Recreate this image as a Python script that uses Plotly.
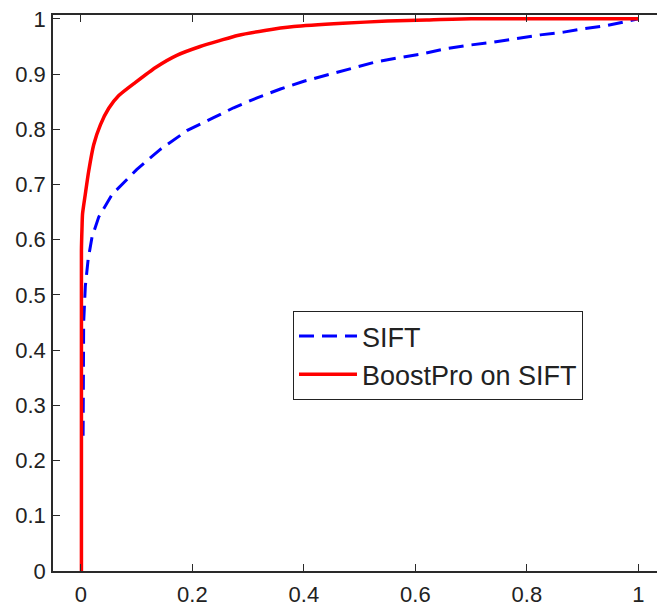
import plotly.graph_objects as go

# ROC curves: false positive rate vs. true positive rate
sift_fpr = [0.004, 0.004, 0.005, 0.008, 0.013, 0.020, 0.032, 0.056, 0.100, 0.143,
            0.191, 0.238, 0.274, 0.316, 0.358, 0.400, 0.442, 0.483, 0.525, 0.567,
            0.609, 0.650, 0.693, 0.735, 0.767, 0.824, 0.866, 0.900, 0.944, 0.985, 1.000]
sift_tpr = [0.245, 0.300, 0.450, 0.516, 0.564, 0.605, 0.641, 0.682, 0.727, 0.764,
            0.798, 0.821, 0.839, 0.857, 0.873, 0.887, 0.898, 0.909, 0.921, 0.929,
            0.936, 0.945, 0.952, 0.957, 0.962, 0.971, 0.976, 0.982, 0.988, 0.996, 1.000]

boost_fpr = [0.001, 0.001, 0.002, 0.003, 0.008, 0.014, 0.023, 0.035, 0.050, 0.068,
             0.098, 0.134, 0.172, 0.214, 0.250, 0.281, 0.330, 0.382, 0.470, 0.550,
             0.620, 0.700, 1.000]
boost_tpr = [0.000, 0.580, 0.620, 0.647, 0.683, 0.724, 0.772, 0.808, 0.838, 0.861,
             0.885, 0.912, 0.934, 0.950, 0.961, 0.970, 0.979, 0.986, 0.992, 0.996,
             0.998, 1.000, 1.000]

x_ticks = [0, 0.2, 0.4, 0.6, 0.8, 1]
x_tick_text = ["0", "0.2", "0.4", "0.6", "0.8", "1"]
y_ticks = [0, 0.1, 0.2, 0.3, 0.4, 0.5, 0.6, 0.7, 0.8, 0.9, 1]
y_tick_text = ["0", "0.1", "0.2", "0.3", "0.4", "0.5", "0.6", "0.7", "0.8", "0.9", "1"]

FONT = "Liberation Sans, Arial, sans-serif"
AXIS_COLOR = "#2a2a2a"
X_RANGE = [-0.05, 1.0334]
Y_RANGE = [0, 1.007]

fig = go.Figure()
fig.add_trace(go.Scatter(
    x=sift_fpr, y=sift_tpr, mode="lines", name="SIFT",
    line=dict(color="#0000ff", width=3, dash="15px,8px"),
))
fig.add_trace(go.Scatter(
    x=boost_fpr, y=boost_tpr, mode="lines", name="BoostPro on SIFT",
    line=dict(color="#ff0000", width=3.5, shape="spline", smoothing=0.6),
))
# empty trace so the mirrored top axis gets drawn
fig.add_trace(go.Scatter(x=[], y=[], xaxis="x2", showlegend=False, hoverinfo="skip"))

axis_common = dict(
    showgrid=False, zeroline=False, showline=True, linecolor=AXIS_COLOR, linewidth=1.5,
    ticks="inside", ticklen=7, tickwidth=1.3, tickcolor=AXIS_COLOR,
)

fig.update_layout(
    width=657, height=607,
    margin=dict(l=53, r=0, t=15, b=28),
    paper_bgcolor="white", plot_bgcolor="white",
    font=dict(family=FONT, color="#222222", size=22),
    xaxis=dict(range=X_RANGE, tickvals=x_ticks, ticktext=x_tick_text,
               ticklabelstandoff=3, **axis_common),
    xaxis2=dict(range=X_RANGE, overlaying="x", side="top", tickvals=x_ticks,
                showticklabels=False, **axis_common),
    yaxis=dict(range=Y_RANGE, tickvals=y_ticks, ticktext=y_tick_text,
               ticklabelstandoff=1, **axis_common),
    legend=dict(
        x=0.397, y=0.468, xanchor="left", yanchor="top",
        bgcolor="white", bordercolor="#222222", borderwidth=1.2,
        font=dict(size=27, family=FONT, color="#222222"),
        itemwidth=58, tracegroupgap=0,
    ),
    showlegend=True,
)

fig.write_html("out.html")
